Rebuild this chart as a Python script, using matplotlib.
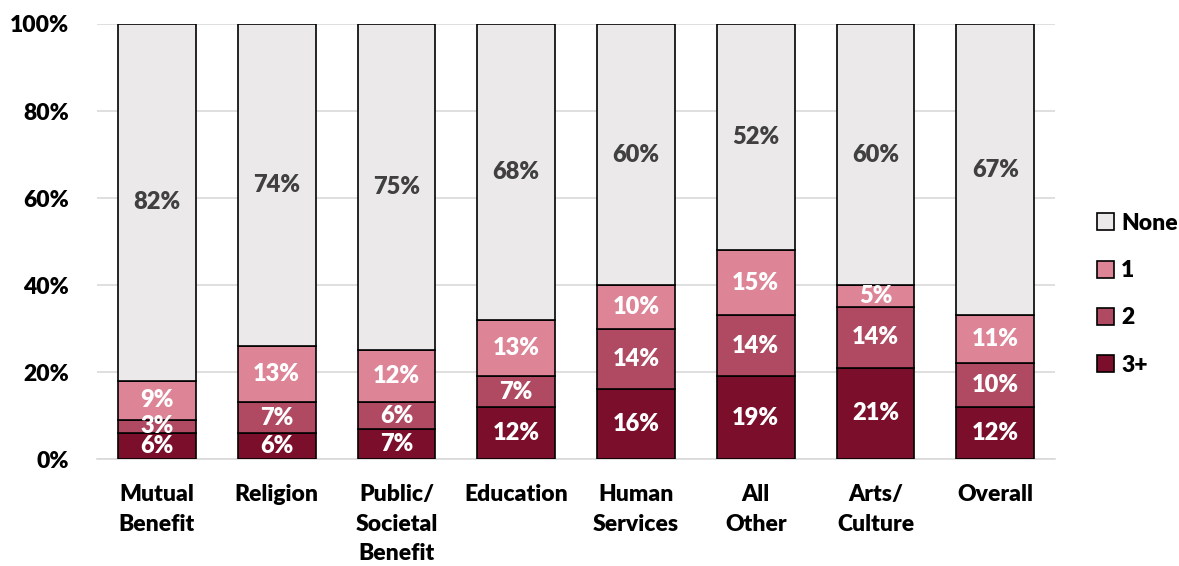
import numpy as np
import matplotlib.pyplot as plt

plt.rcParams['font.family'] = ['Lato', 'DejaVu Sans']

categories = ["Mutual\nBenefit", "Religion", "Public/\nSocietal\nBenefit", "Education",
              "Human\nServices", "All\nOther", "Arts/\nCulture", "Overall"]
three_plus = [6, 6, 7, 12, 16, 19, 21, 12]
two = [3, 7, 6, 7, 14, 14, 14, 10]
one = [9, 13, 12, 13, 10, 15, 5, 11]
none = [82, 74, 75, 68, 60, 52, 60, 67]

series = [("3+", three_plus, "#7a0e2b", "white"),
          ("2", two, "#b04a63", "white"),
          ("1", one, "#dd8496", "white"),
          ("None", none, "#ebe9ea", "#404040")]

fig = plt.figure(figsize=(11.79, 5.66), dpi=100)
ax = fig.add_axes([0.0823, 0.189, 0.8127, 0.7686])

x = np.arange(len(categories))
bottom = np.zeros(len(categories))
handles = {}
for name, vals, color, tcolor in series:
    vals = np.array(vals, dtype=float)
    bars = ax.bar(x, vals, 0.65, bottom=bottom, color=color, edgecolor="black",
                  linewidth=1.2, label=name, zorder=3)
    handles[name] = bars
    for xi, b, v in zip(x, bottom, vals):
        ax.text(xi, b + v / 2, f"{int(v)}%", ha="center", va="center",
                color=tcolor, fontsize=17, fontweight="heavy", zorder=4)
    bottom += vals

ax.set_xlim(-0.5, len(categories) - 0.5)
ax.set_ylim(0, 100)
ax.set_yticks([0, 20, 40, 60, 80, 100])
ax.set_yticklabels([f"{v}%" for v in [0, 20, 40, 60, 80, 100]])
ax.set_xticks(x)
ax.set_xticklabels(categories, linespacing=1.5)
ax.tick_params(axis="both", length=0, labelsize=16.5)
ax.tick_params(axis="x", pad=18)
ax.tick_params(axis="y", pad=20)
for lab in ax.get_xticklabels() + ax.get_yticklabels():
    lab.set_fontweight("heavy")
ax.grid(axis="y", color="#d9d9d9", linewidth=1.2, zorder=0)
for s in ["top", "right", "left"]:
    ax.spines[s].set_visible(False)
ax.spines["bottom"].set_color("#d9d9d9")
ax.spines["bottom"].set_linewidth(1.2)

order = ["None", "1", "2", "3+"]
leg = fig.legend([handles[k] for k in order], order, loc="center left",
                 bbox_to_anchor=(0.913, 0.48), frameon=False,
                 prop={"size": 16.5, "weight": "heavy"}, handlelength=0.75,
                 handleheight=0.75, handletextpad=0.3, labelspacing=1.15)

fig.savefig("out.png", dpi=100)
